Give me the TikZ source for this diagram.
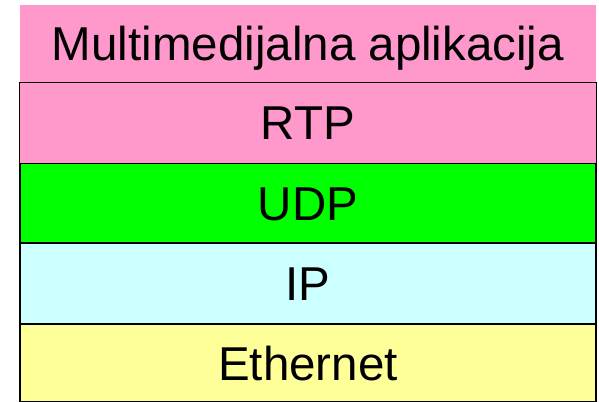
\documentclass[tikz,border=0pt]{standalone}
\usepackage{fontspec}
\setmainfont{Liberation Sans}
\definecolor{apppink}{RGB}{255,153,204}
\definecolor{udpgreen}{RGB}{0,255,0}
\definecolor{ipcyan}{RGB}{204,255,255}
\definecolor{ethyellow}{RGB}{255,255,153}
\tikzset{
  layer/.style={rectangle, inner sep=0pt, minimum width=576bp, draw=black,
    line width=1.6bp, text height=34.2bp, text depth=0pt,
    font=\fontsize{47.5bp}{50bp}\selectfont},
}
\begin{document}
\begin{tikzpicture}[x=1bp, y=-1bp]
  \useasboundingbox (0,0) rectangle (599,401);
  \clip (0,0) rectangle (599,401);
  % protocol stack, top to bottom
  \node[layer, draw=none, fill=apppink, minimum height=77bp] (app) at (308,43.5) {Multimedijalna aplikacija};
  \node[layer, fill=ethyellow, minimum height=78bp] (eth) at (308,363) {Ethernet};
  \node[layer, fill=ipcyan, minimum height=81bp] (ip) at (308,283.5) {IP};
  \node[layer, fill=udpgreen, minimum height=80bp] (udp) at (308,203) {UDP};
  \node[layer, line width=1bp, fill=apppink, minimum height=81bp] (rtp) at (308,122.5) {RTP};
\end{tikzpicture}
\end{document}
